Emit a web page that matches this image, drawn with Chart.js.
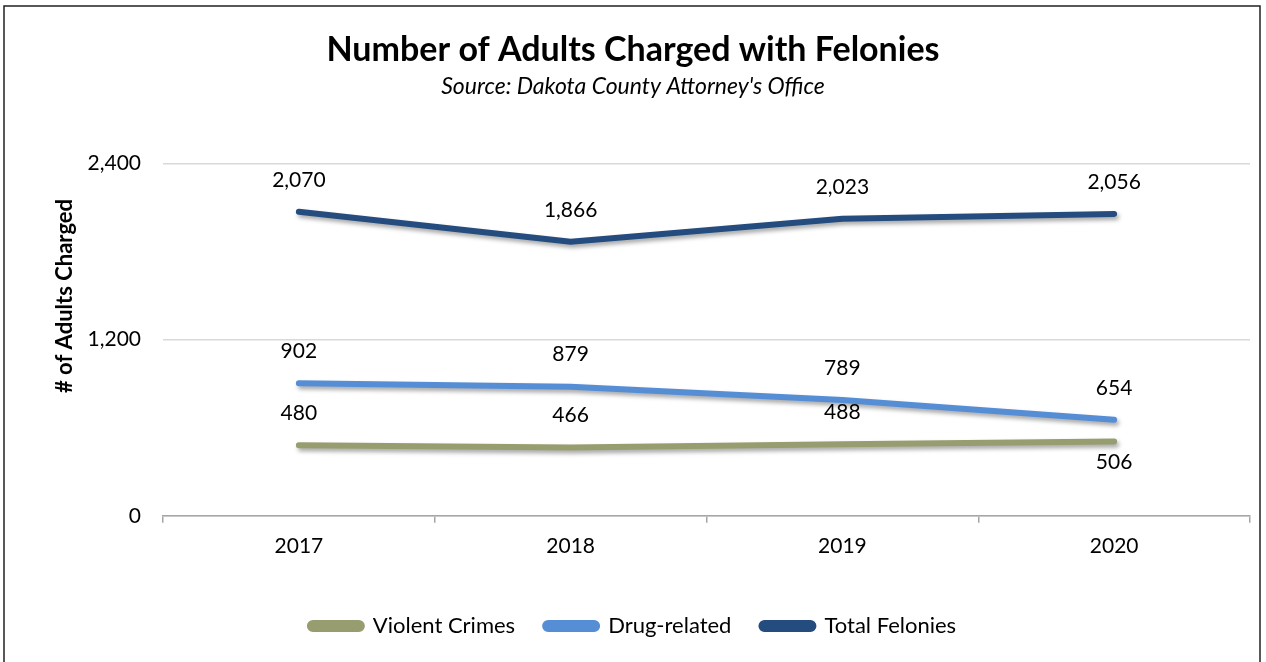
<!DOCTYPE html>
<html>
<head>
<meta charset="utf-8">
<title>Number of Adults Charged with Felonies</title>
<script src="https://cdn.jsdelivr.net/npm/chart.js@4/dist/chart.umd.min.js"></script>
<style>
  html, body { margin: 0; padding: 0; background: #fff; }
  #wrap { position: relative; width: 1266px; height: 662px; }
</style>
</head>
<body>
<div id="wrap"><canvas id="felonyChart" width="1266" height="662"></canvas></div>
<script>
// yearly counts, Dakota County Attorney's Office
var years = ["2017", "2018", "2019", "2020"];
var violentCrimes = [480, 466, 488, 506];
var drugRelated = [902, 879, 789, 654];
var totalFelonies = [2070, 1866, 2023, 2056];
var yTicks = [0, 1200, 2400];

var FONT = "Lato, 'Open Sans', sans-serif";

// value labels over (or under) each point
var pointLabels = {
    id: "pointLabels",
    afterDatasetsDraw: function (chart) {
        var ctx = chart.ctx;
        ctx.save();
        ctx.font = "21px " + FONT;
        ctx.fillStyle = "#000";
        ctx.textAlign = "center";
        ctx.textBaseline = "middle";
        chart.data.datasets.forEach(function (ds, i) {
            var meta = chart.getDatasetMeta(i);
            meta.data.forEach(function (pt, j) {
                var below = ds.labelSide && ds.labelSide[j] === "below";
                var y = below ? pt.y + 21 : pt.y - 32;
                ctx.fillText(ds.data[j].toLocaleString("en-US"), pt.x, y);
            });
        });
        ctx.restore();
    }
};

// soft drop shadow under the lines
var lineShadow = {
    id: "lineShadow",
    beforeDatasetDraw: function (chart) {
        var ctx = chart.ctx;
        ctx.save();
        ctx.shadowColor = "rgba(0,0,0,0.35)";
        ctx.shadowBlur = 4;
        ctx.shadowOffsetX = 2;
        ctx.shadowOffsetY = 3;
    },
    afterDatasetDraw: function (chart) {
        chart.ctx.restore();
    }
};

// frame and the vertical axis title
var decorations = {
    id: "decorations",
    afterDraw: function (chart) {
        var ctx = chart.ctx;
        ctx.save();
        ctx.strokeStyle = "#222";
        ctx.lineWidth = 1.5;
        ctx.strokeRect(4, 6, 1256, 700);

        ctx.translate(65, 296);
        ctx.rotate(-Math.PI / 2);
        ctx.font = "bold 22px " + FONT;
        ctx.fillStyle = "#000";
        ctx.textAlign = "center";
        ctx.textBaseline = "middle";
        ctx.fillText("# of Adults Charged", 0, 0);
        ctx.restore();
    }
};

function lineSet(label, data, color, side) {
    return {
        label: label,
        data: data,
        borderColor: color,
        backgroundColor: color,
        borderWidth: 6,
        borderCapStyle: "round",
        borderJoinStyle: "round",
        pointRadius: 0,
        pointHoverRadius: 0,
        tension: 0,
        fill: false,
        labelSide: side
    };
}

var ctx = document.getElementById("felonyChart").getContext("2d");
var chart = new Chart(ctx, {
    type: "line",
    data: {
        labels: years,
        datasets: [
            lineSet("Violent Crimes", violentCrimes, "#989d70", ["above", "above", "above", "below"]),
            lineSet("Drug-related", drugRelated, "#558ed5", null),
            lineSet("Total Felonies", totalFelonies, "#254c7f", null)
        ]
    },
    options: {
        responsive: false,
        animation: false,
        layout: {
            padding: { left: 16, right: 16, top: 8, bottom: 15 }
        },
        plugins: {
            title: {
                display: true,
                text: "Number of Adults Charged with Felonies",
                color: "#000",
                font: { family: FONT, size: 34, weight: "bold" },
                padding: { top: 22, bottom: 2 }
            },
            subtitle: {
                display: true,
                text: "Source: Dakota County Attorney's Office",
                color: "#000",
                font: { family: FONT, size: 23, style: "italic" },
                padding: { top: 0, bottom: 63 }
            },
            legend: {
                display: true,
                position: "bottom",
                labels: {
                    color: "#000",
                    font: { family: FONT, size: 22 },
                    boxWidth: 52,
                    boxHeight: 6,
                    useBorderRadius: true,
                    borderRadius: 3,
                    padding: 30
                }
            },
            tooltip: { enabled: false }
        },
        scales: {
            x: {
                offset: true,
                grid: {
                    offset: true,
                    drawOnChartArea: false,
                    drawTicks: true,
                    tickLength: 7,
                    color: "#a6a6a6",
                    lineWidth: 1.5
                },
                border: { color: "#a6a6a6", width: 1.5 },
                ticks: {
                    color: "#000",
                    font: { family: FONT, size: 21 },
                    padding: 11
                },
                afterFit: function (axis) {
                    axis.height += 15;
                }
            },
            y: {
                min: 0,
                max: 2400,
                afterBuildTicks: function (axis) {
                    axis.ticks = yTicks.map(function (v) { return { value: v }; });
                },
                afterFit: function (axis) {
                    axis.width = 147;
                },
                grid: {
                    color: "#d9d9d9",
                    lineWidth: 1.5,
                    drawTicks: false
                },
                border: { display: false },
                ticks: {
                    color: "#000",
                    font: { family: FONT, size: 21 },
                    padding: 22,
                    callback: function (v) { return v.toLocaleString("en-US"); }
                }
            }
        }
    },
    plugins: [lineShadow, pointLabels, decorations]
});
</script>
</body>
</html>
